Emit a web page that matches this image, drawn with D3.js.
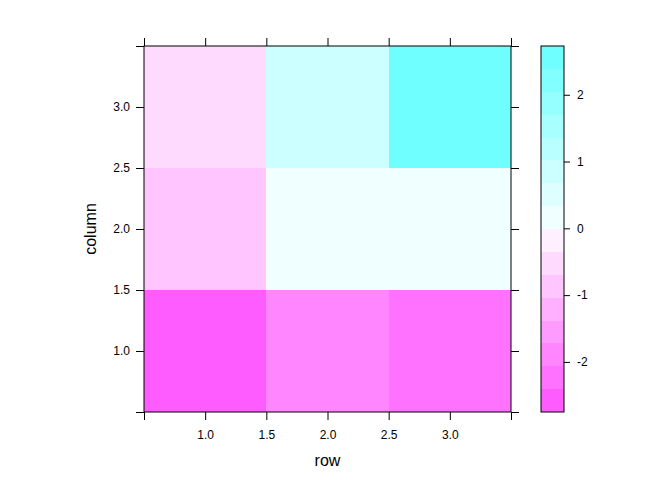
<!DOCTYPE html>
<html>
<head>
<meta charset="utf-8">
<script src="https://cdn.jsdelivr.net/npm/d3@7"></script>
<style>
  html, body { margin: 0; padding: 0; background: #fff; }
  svg { display: block; font-family: "Liberation Sans", Arial, sans-serif; }
</style>
</head>
<body>
<svg id="chart" width="672" height="480"></svg>
<script>
// ---- data ----
const rows = [1, 2, 3];
const columns = [1, 2, 3];
// values[c][r] : value at column c (y), row r (x)
const valuesCol1 = [-2.75, -1.90, -2.20];
const valuesCol2 = [-0.85, 0.15, 0.18];
const valuesCol3 = [-0.50, 0.85, 2.73];
const axisTicks = [0.5, 1.0, 1.5, 2.0, 2.5, 3.0, 3.5];
const axisLabels = ["", "1.0", "1.5", "2.0", "2.5", "3.0", ""];
const keyTicks = [-2, -1, 0, 1, 2];
const palette = [
  "#FF5CFF", "#FF71FF", "#FF86FF", "#FF9BFF", "#FFB0FF", "#FFC5FF", "#FFDAFF", "#FFF0FF",
  "#F0FFFF", "#DEFFFF", "#CCFFFF", "#BAFFFF", "#A7FFFF", "#95FFFF", "#82FFFF", "#70FFFF"
];

const grid = [valuesCol1, valuesCol2, valuesCol3];
const cells = [];
columns.forEach((c, ci) => rows.forEach((r, ri) => cells.push({ row: r, col: c, v: grid[ci][ri] })));

const allV = cells.map(d => d.v);
const zmin = d3.min(allV), zmax = d3.max(allV);

const svg = d3.select("#chart");
const x = d3.scaleLinear().domain([0.5, 3.5]).range([144, 511]);
const y = d3.scaleLinear().domain([0.5, 3.5]).range([412, 46]);
const color = d3.scaleQuantize().domain([zmin, zmax]).range(palette);

// cells
svg.append("g").selectAll("rect").data(cells).join("rect")
  .attr("x", d => x(d.row - 0.5))
  .attr("y", d => y(d.col + 0.5))
  .attr("width", d => x(d.row + 0.5) - x(d.row - 0.5))
  .attr("height", d => y(d.col - 0.5) - y(d.col + 0.5))
  .attr("fill", d => color(d.v))
  .attr("shape-rendering", "crispEdges");

// panel border
svg.append("rect")
  .attr("x", 144).attr("y", 46)
  .attr("width", 511 - 144).attr("height", 412 - 46)
  .attr("fill", "none").attr("stroke", "#000").attr("stroke-width", 1);

const fmt = (d, i) => axisLabels[i];
function styleAxis(g) {
  g.select(".domain").remove();
  g.selectAll(".tick line").attr("stroke", "#000");
  g.selectAll(".tick text").attr("fill", "#000").attr("font-size", 12)
    .attr("font-family", "Liberation Sans, Arial, sans-serif");
}
svg.append("g").attr("transform", "translate(0,412)")
  .call(d3.axisBottom(x).tickValues(axisTicks).tickFormat(fmt).tickSize(8).tickPadding(10))
  .call(styleAxis);
svg.append("g").attr("transform", "translate(0,46)")
  .call(d3.axisTop(x).tickValues(axisTicks).tickFormat("").tickSize(8))
  .call(styleAxis);
svg.append("g").attr("transform", "translate(144,0)")
  .call(d3.axisLeft(y).tickValues(axisTicks).tickFormat(fmt).tickSize(8).tickPadding(6))
  .call(styleAxis);
svg.append("g").attr("transform", "translate(511,0)")
  .call(d3.axisRight(y).tickValues(axisTicks).tickFormat("").tickSize(8))
  .call(styleAxis);

// axis titles
svg.append("text").attr("x", 327.5).attr("y", 466).attr("text-anchor", "middle")
  .attr("font-size", 16).attr("fill", "#000").text("row");
svg.append("text").attr("transform", "translate(96,229) rotate(-90)")
  .attr("text-anchor", "middle").attr("font-size", 16).attr("fill", "#000").text("column");

// color key
const kx0 = 541, kx1 = 564;
const ky = d3.scaleLinear().domain([zmin, zmax]).range([412, 46]);
const breaks = color.thresholds();
const bandEdges = [zmin, ...breaks, zmax];
svg.append("g").selectAll("rect").data(palette).join("rect")
  .attr("x", kx0)
  .attr("y", (d, i) => ky(bandEdges[i + 1]))
  .attr("width", kx1 - kx0)
  .attr("height", (d, i) => ky(bandEdges[i]) - ky(bandEdges[i + 1]))
  .attr("fill", d => d)
  .attr("shape-rendering", "crispEdges");
svg.append("rect").attr("x", kx0).attr("y", 46).attr("width", kx1 - kx0).attr("height", 412 - 46)
  .attr("fill", "none").attr("stroke", "#000");
svg.append("g").attr("transform", `translate(${kx1},0)`)
  .call(d3.axisRight(ky).tickValues(keyTicks).tickFormat(d => d < 0 ? "-" + Math.abs(d) : String(d)).tickSize(6).tickPadding(7))
  .call(styleAxis);
</script>
</body>
</html>
